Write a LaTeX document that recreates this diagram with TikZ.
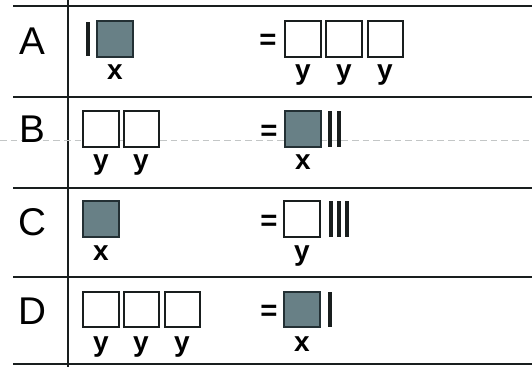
\documentclass[tikz,border=0pt]{standalone}
\usepackage{fontspec}
\setmainfont{Liberation Sans}
\usepackage{tikz}

\tikzset{
  rule/.style={color={rgb, 255:red, 25; green, 30; blue, 30 }, line width=1.6},
  ybox/.style={color={rgb, 255:red, 25; green, 30; blue, 30 }, line width=1.5, fill=white},
  xbox/.style={color={rgb, 255:red, 35; green, 48; blue, 52 }, line width=1.5, fill={rgb, 255:red, 104; green, 128; blue, 134 }},
  tally/.style={fill={rgb, 255:red, 25; green, 30; blue, 30 }},
  rowlab/.style={font=\fontsize{29}{29}\selectfont},
  eqsign/.style={font=\fontsize{22}{22}\bfseries\selectfont},
  varlab/.style={font=\fontsize{21}{21}\bfseries\selectfont, anchor=base}
}

\begin{document}
\begin{tikzpicture}[x=0.75pt,y=0.75pt,yscale=-1,xscale=1]
\useasboundingbox (0,0) rectangle (532,367);

%Straight Lines: table rules
\draw [rule] (13,6) -- (532,6) ;
\draw [rule] (13,97) -- (532,97) ;
\draw [rule] (13,188) -- (532,188) ;
\draw [rule] (13,277) -- (532,277) ;
\draw [rule] (13,364) -- (532,364) ;
\draw [rule] (68,0) -- (68,367) ;
%Straight Lines: faint scan line in row B
\draw [color={rgb, 255:red, 195; green, 198; blue, 198 }, line width=0.5, dash pattern=on 5pt off 3pt] (0,140) -- (532,140) ;

% Row A
\fill [tally] (86,22) rectangle (90,56) ;
\draw [xbox] (97,21) -- (133,21) -- (133,57) -- (97,57) -- cycle ;
\draw [ybox] (285,21) -- (321,21) -- (321,57) -- (285,57) -- cycle ;
\draw [ybox] (326,21) -- (362,21) -- (362,57) -- (326,57) -- cycle ;
\draw [ybox] (368,21) -- (403,21) -- (403,57) -- (368,57) -- cycle ;

% Row B
\draw [ybox] (83,111) -- (119,111) -- (119,147) -- (83,147) -- cycle ;
\draw [ybox] (124,111) -- (159,111) -- (159,147) -- (124,147) -- cycle ;
\draw [xbox] (285,111) -- (321,111) -- (321,147) -- (285,147) -- cycle ;
\fill [tally] (328,111) rectangle (332,147) ;
\fill [tally] (337,111) rectangle (341,147) ;

% Row C
\draw [xbox] (83,201) -- (119,201) -- (119,237) -- (83,237) -- cycle ;
\draw [ybox] (284,201) -- (320,201) -- (320,237) -- (284,237) -- cycle ;
\fill [tally] (329,201) rectangle (333,237) ;
\fill [tally] (337,201) rectangle (341,237) ;
\fill [tally] (345,201) rectangle (349,237) ;

% Row D
\draw [ybox] (83,292) -- (119,292) -- (119,327) -- (83,327) -- cycle ;
\draw [ybox] (124,292) -- (159,292) -- (159,327) -- (124,327) -- cycle ;
\draw [ybox] (165,292) -- (200,292) -- (200,327) -- (165,327) -- cycle ;
\draw [xbox] (284,292) -- (320,292) -- (320,327) -- (284,327) -- cycle ;
\fill [tally] (328,292) rectangle (332,327) ;

% Text Node
\draw (32,41) node [rowlab] (labA) {A};
% Text Node
\draw (32,129) node [rowlab] (labB) {B};
% Text Node
\draw (32,222) node [rowlab] (labC) {C};
% Text Node
\draw (32,311) node [rowlab] (labD) {D};

% Text Node
\draw (268,42) node [eqsign] (eqA) {=};
% Text Node
\draw (269,133) node [eqsign] (eqB) {=};
% Text Node
\draw (269,223) node [eqsign] (eqC) {=};
% Text Node
\draw (269,313) node [eqsign] (eqD) {=};

% Text Node
\draw (115,80) node [varlab] (xA) {x};
% Text Node
\draw (303,80) node [varlab] (yA1) {y};
% Text Node
\draw (344,80) node [varlab] (yA2) {y};
% Text Node
\draw (385,80) node [varlab] (yA3) {y};
% Text Node
\draw (101,170) node [varlab] (yB1) {y};
% Text Node
\draw (141,170) node [varlab] (yB2) {y};
% Text Node
\draw (303,170) node [varlab] (xB) {x};
% Text Node
\draw (101,260) node [varlab] (xC) {x};
% Text Node
\draw (302,260) node [varlab] (yC) {y};
% Text Node
\draw (101,351) node [varlab] (yD1) {y};
% Text Node
\draw (141,351) node [varlab] (yD2) {y};
% Text Node
\draw (182,351) node [varlab] (yD3) {y};
% Text Node
\draw (302,351) node [varlab] (xD) {x};

\end{tikzpicture}
\end{document}
